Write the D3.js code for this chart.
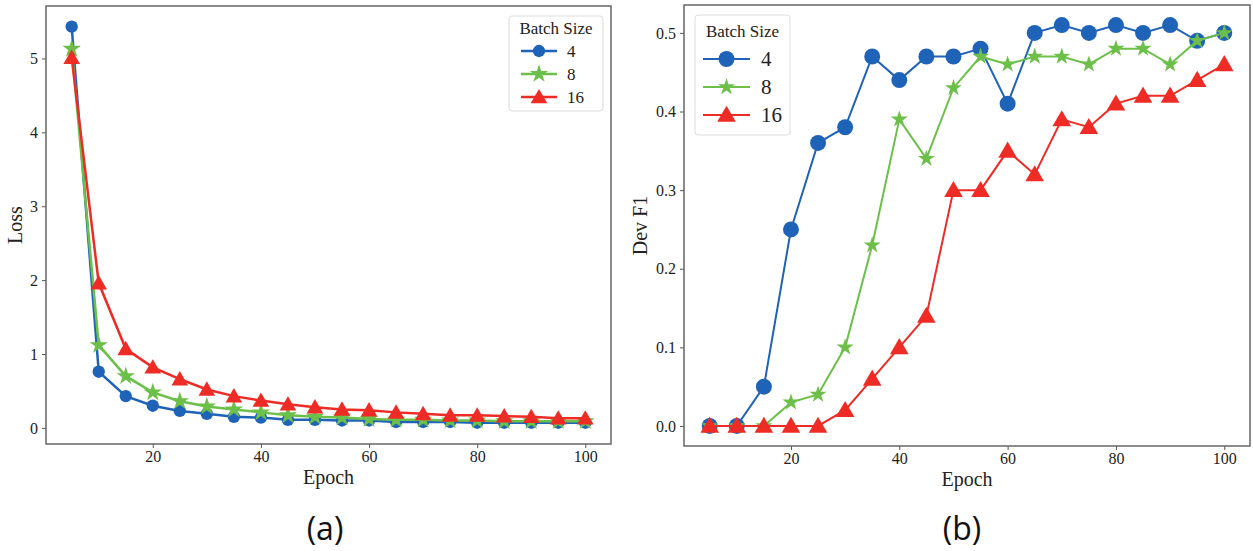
<!DOCTYPE html>
<html>
<head>
<meta charset="utf-8">
<script src="https://cdn.jsdelivr.net/npm/d3@7"></script>
<style>
  body { margin: 0; background: #fff; }
  svg { display: block; }
</style>
</head>
<body>
<div id="chart"></div>
<script>
const epochs = [5,10,15,20,25,30,35,40,45,50,55,60,65,70,75,80,85,90,95,100]
const batchSizes = ['4', '8', '16']

// (a) loss
const loss4  = [5.43,0.76,0.43,0.30,0.23,0.19,0.15,0.14,0.11,0.11,0.10,0.10,0.08,0.08,0.08,0.07,0.07,0.07,0.07,0.07]
const loss8  = [5.13,1.12,0.70,0.48,0.36,0.29,0.25,0.21,0.17,0.15,0.14,0.12,0.11,0.11,0.10,0.10,0.09,0.09,0.09,0.09]
const loss16 = [5.01,1.96,1.07,0.82,0.66,0.52,0.43,0.37,0.32,0.28,0.25,0.24,0.21,0.19,0.17,0.17,0.16,0.15,0.13,0.13]

// (b) dev f1
const f1_4  = [0,0,0.05,0.25,0.36,0.38,0.47,0.44,0.47,0.47,0.48,0.41,0.50,0.51,0.50,0.51,0.50,0.51,0.49,0.50]
const f1_8  = [0,0,0,0.03,0.04,0.10,0.23,0.39,0.34,0.43,0.47,0.46,0.47,0.47,0.46,0.48,0.48,0.46,0.49,0.50]
const f1_16 = [0,0,0,0,0,0.02,0.06,0.10,0.14,0.30,0.30,0.35,0.32,0.39,0.38,0.41,0.42,0.42,0.44,0.46]

const xTicks = [20,40,60,80,100]
const lossTicks = [0,1,2,3,4,5]
const f1Ticks = [0,0.1,0.2,0.3,0.4,0.5]

const colors = {'4': '#1f63b8', '8': '#6cc04a', '16': '#ee2b25'}
const serif = '"Liberation Serif", "Times New Roman", serif'

const width = 1253, height = 551

const svg = d3.select('#chart')
  .append('svg')
    .attr('width', width)
    .attr('height', height)

function drawPanel(opt) {
  const x = d3.scaleLinear().domain([0.25, 104.75]).range([opt.left, opt.right])
  const y = d3.scaleLinear().domain(opt.yDomain).range([opt.bottom, opt.top])

  const g = svg.append('g')

  // x axis
  g.append('g')
      .attr('transform', `translate(0, ${opt.bottom})`)
      .call(d3.axisBottom(x).tickValues(xTicks).tickSize(4).tickPadding(3).tickFormat(d3.format('d')))
      .call(g => g.select('.domain').remove())
      .call(g => g.selectAll('.tick line').attr('stroke', '#555'))
      .call(g => g.selectAll('.tick text')
        .attr('font-family', serif).attr('font-size', 16).attr('fill', '#222'))

  // y axis
  g.append('g')
      .attr('transform', `translate(${opt.left}, 0)`)
      .call(d3.axisLeft(y).tickValues(opt.yTicks).tickSize(4).tickPadding(4).tickFormat(opt.fmt))
      .call(g => g.select('.domain').remove())
      .call(g => g.selectAll('.tick line').attr('stroke', '#555'))
      .call(g => g.selectAll('.tick text')
        .attr('font-family', serif).attr('font-size', 16).attr('fill', '#222'))

  // frame
  g.append('rect')
      .attr('x', opt.left)
      .attr('y', opt.top)
      .attr('width', opt.right - opt.left)
      .attr('height', opt.bottom - opt.top)
      .attr('fill', 'none')
      .attr('stroke', '#666')
      .attr('stroke-width', 1.5)

  // axis labels
  g.append('text')
      .attr('x', (opt.left + opt.right) / 2)
      .attr('y', opt.bottom + 40)
      .attr('text-anchor', 'middle')
      .attr('font-family', serif)
      .attr('font-size', 20)
      .attr('fill', '#222')
      .text('Epoch')

  g.append('text')
      .attr('transform', `translate(${opt.yLabelX}, ${(opt.top + opt.bottom) / 2}) rotate(-90)`)
      .attr('text-anchor', 'middle')
      .attr('font-family', serif)
      .attr('font-size', 20)
      .attr('fill', '#222')
      .text(opt.yLabel)

  // panel caption
  g.append('text')
      .attr('x', opt.capX)
      .attr('y', 540)
      .attr('text-anchor', 'middle')
      .attr('font-family', '"Open Sans", "Noto Sans", sans-serif')
      .attr('font-size', 32)
      .attr('fill', '#111')
      .text(opt.caption)

  const line = d3.line()
      .x(d => x(d.epoch))
      .y(d => y(d.value))

  const symbols = {
    '4': d3.symbol().type(d3.symbolCircle).size(opt.sym['4']),
    '8': d3.symbol().type(d3.symbolStar).size(opt.sym['8']),
    '16': d3.symbol().type(d3.symbolTriangle).size(opt.sym['16'])
  }

  opt.series.forEach((vals, i) => {
    const name = batchSizes[i]
    const data = epochs.map((e, j) => ({epoch: e, value: vals[j]}))
    g.append('path')
        .attr('d', line(data))
        .attr('fill', 'none')
        .attr('stroke', colors[name])
        .attr('stroke-width', opt.lw)
    g.selectAll(null)
      .data(data)
      .join('path')
        .attr('transform', d => `translate(${x(d.epoch)}, ${y(d.value) + (name === '16' ? 1.5 : 0)})`)
        .attr('d', symbols[name]())
        .attr('fill', colors[name])
  })

  // legend
  const L = opt.legend
  const lg = g.append('g').attr('transform', `translate(${L.x}, ${L.y})`)
  lg.append('rect')
      .attr('width', L.w)
      .attr('height', L.h)
      .attr('rx', 3)
      .attr('fill', '#fff')
      .attr('stroke', '#ddd')
  lg.append('text')
      .attr('x', L.w / 2)
      .attr('y', L.titleY)
      .attr('text-anchor', 'middle')
      .attr('font-family', serif)
      .attr('font-size', 17)
      .attr('fill', '#222')
      .text('Batch Size')
  batchSizes.forEach((name, i) => {
    const ry = L.rowY + i * L.rowGap
    lg.append('line')
        .attr('x1', L.lx1).attr('x2', L.lx2)
        .attr('y1', ry).attr('y2', ry)
        .attr('stroke', colors[name])
        .attr('stroke-width', opt.lw)
    lg.append('path')
        .attr('transform', `translate(${(L.lx1 + L.lx2) / 2}, ${ry + (name === '16' ? 1.5 : 0)})`)
        .attr('d', symbols[name]())
        .attr('fill', colors[name])
    lg.append('text')
        .attr('x', L.tx)
        .attr('y', ry)
        .attr('dominant-baseline', 'central')
        .attr('font-family', serif)
        .attr('font-size', L.fs)
        .attr('fill', '#222')
        .text(name)
  })
}

drawPanel({
  left: 46, right: 611, top: 6, bottom: 444,
  yDomain: [-0.218, 5.71], yTicks: lossTicks, fmt: d3.format('d'),
  yLabel: 'Loss', yLabelX: 22, caption: '(a)', capX: 325,
  series: [loss4, loss8, loss16],
  sym: {'4': 120, '8': 105, '16': 120}, lw: 2.5,
  legend: {x: 509, y: 16, w: 94, h: 95, titleY: 18, rowY: 35, rowGap: 23, lx1: 12, lx2: 48, tx: 58, fs: 17}
})

drawPanel({
  left: 684, right: 1250, top: 5, bottom: 446,
  yDomain: [-0.0255, 0.5355], yTicks: f1Ticks, fmt: d3.format('.1f'),
  yLabel: 'Dev F1', yLabelX: 647, caption: '(b)', capX: 962,
  series: [f1_4, f1_8, f1_16],
  sym: {'4': 200, '8': 90, '16': 150}, lw: 2,
  legend: {x: 695, y: 15, w: 95, h: 120, titleY: 22, rowY: 44, rowGap: 28, lx1: 8, lx2: 55, tx: 66, fs: 21}
})
</script>
</body>
</html>
